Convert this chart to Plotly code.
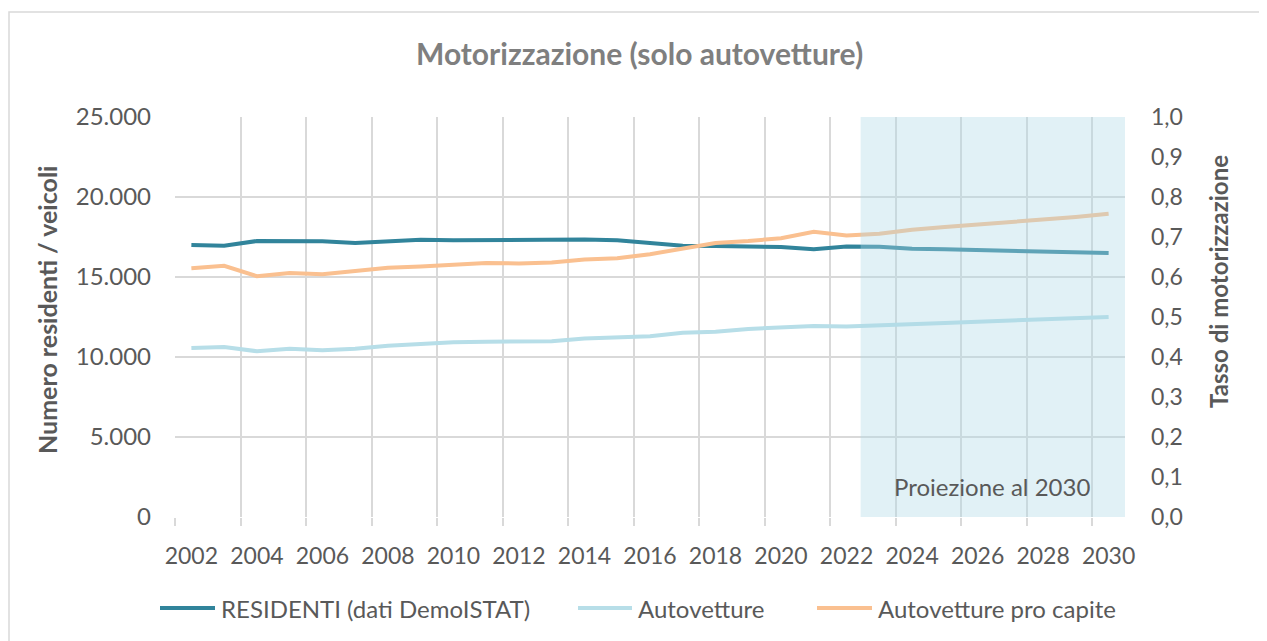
import plotly.graph_objects as go

years = list(range(2002, 2031))
residenti = [17000, 16950, 17250, 17250, 17230, 17130, 17230, 17330, 17290, 17310,
             17330, 17330, 17350, 17290, 17120, 16960, 16940, 16920, 16870, 16730,
             16910, 16890, 16770, 16730, 16690, 16660, 16620, 16540, 16500]
autovetture = [10560, 10620, 10360, 10520, 10420, 10520, 10710, 10840, 10920, 10960,
               10960, 10980, 11150, 11210, 11290, 11520, 11580, 11750, 11830, 11940,
               11900, 11960, 12040, 12120, 12210, 12270, 12330, 12420, 12500]
pro_capite = [0.622, 0.628, 0.602, 0.610, 0.607, 0.616, 0.623, 0.626, 0.631, 0.635,
              0.634, 0.636, 0.644, 0.647, 0.657, 0.670, 0.685, 0.690, 0.697, 0.713,
              0.704, 0.708, 0.718, 0.725, 0.731, 0.738, 0.743, 0.750, 0.758]
series_names = ["RESIDENTI (dati DemoISTAT)", "Autovetture", "Autovetture pro capite"]
series_colors = ["#31849B", "#B7DEE8", "#FAC090"]
x_tick_labels = [str(y) for y in range(2002, 2031, 2)]
proj_start, proj_end = 2022.43, 2030.5

FONT = "Lato"
TXT = "#595959"
GRID = "#D9D9D9"

# page has an 8px body margin: plot area on the page is x 175..1125, y 117..517
PL, PR, PT, PB = 175, 1125, 117, 517
def px(x):
    return (x - PL) / (PR - PL)
def py(y):
    return (PB - y) / (PB - PT)

fig = go.Figure()
for vals, name, col, ax in zip([residenti, autovetture, pro_capite], series_names,
                               series_colors, ["y", "y", "y2"]):
    fig.add_trace(go.Scatter(x=years, y=vals, name=name, mode="lines",
                             line=dict(color=col, width=4), yaxis=ax,
                             showlegend=False))

W, H = 1259, 633
fig.update_layout(
    width=W, height=H,
    margin=dict(l=PL - 8, r=W - (PR - 8), t=PT - 8, b=H - (PB - 8)),
    paper_bgcolor="white", plot_bgcolor="white",
    separators=",.",
    font=dict(family=FONT, size=23, color=TXT),
    showlegend=False,
    xaxis=dict(range=[2001.5, 2030.5], tickmode="array",
               tickvals=[int(t) for t in x_tick_labels], ticktext=x_tick_labels,
               ticks="", showgrid=False, zeroline=False, showline=False,
               ticklabelstandoff=23,
               tickfont=dict(family=FONT, size=23, color=TXT),
               minor=dict(tickmode="array",
                          tickvals=[y - 0.5 for y in range(2002, 2031, 2)],
                          ticks="outside", ticklen=8, tickcolor=GRID, tickwidth=1.5,
                          showgrid=True, gridcolor=GRID, gridwidth=1.5)),
    yaxis=dict(range=[0, 25000], tick0=0, dtick=5000, tickformat=",d",
               showgrid=True, gridcolor=GRID, gridwidth=1.5, zeroline=False,
               ticks="", ticklabelstandoff=23,
               tickfont=dict(family=FONT, size=24, color=TXT)),
    yaxis2=dict(range=[0, 1], tick0=0, dtick=0.1, tickformat=".1f",
                overlaying="y", side="right", showgrid=False, zeroline=False,
                ticks="", ticklabelstandoff=25,
                tickfont=dict(family=FONT, size=23, color=TXT)),
)

# projection band (drawn above the lines, translucent)
fig.add_shape(type="rect", xref="x", yref="paper", x0=proj_start, x1=proj_end,
              y0=0, y1=1, fillcolor="rgba(173,216,230,0.37)", line=dict(width=0),
              layer="above")
# outer chart border
fig.add_shape(type="rect", xref="paper", yref="paper", x0=px(9), x1=px(1280),
              y0=py(660), y1=py(12), line=dict(color=GRID, width=1.5),
              fillcolor="rgba(0,0,0,0)", layer="below")

fig.add_annotation(text="<b>Motorizzazione (solo autovetture)</b>", xref="paper", yref="paper",
                   x=px(639), y=py(53), showarrow=False, xanchor="center", yanchor="middle",
                   font=dict(family=FONT, size=30, color="#7F7F7F"))
fig.add_annotation(text="<b>Numero residenti / veicoli</b>", xref="paper", yref="paper",
                   x=px(47), y=py(310), showarrow=False, textangle=-90,
                   xanchor="center", yanchor="middle",
                   font=dict(family=FONT, size=25, color=TXT))
fig.add_annotation(text="<b>Tasso di motorizzazione</b>", xref="paper", yref="paper",
                   x=px(1218), y=py(282), showarrow=False, textangle=-90,
                   xanchor="center", yanchor="middle",
                   font=dict(family=FONT, size=24, color=TXT))
fig.add_annotation(text="Proiezione al 2030", xref="paper", yref="paper",
                   x=px(992), y=py(486), showarrow=False,
                   xanchor="center", yanchor="middle",
                   font=dict(family=FONT, size=24, color=TXT))

# legend (line samples + labels)
leg_y = 608
leg_lines = [(160, 215), (578, 632), (817, 872)]
leg_text_x = [219, 636, 876]
for (x0, x1), tx, name, col in zip(leg_lines, leg_text_x, series_names, series_colors):
    fig.add_shape(type="line", xref="paper", yref="paper", x0=px(x0), x1=px(x1),
                  y0=py(leg_y), y1=py(leg_y), line=dict(color=col, width=4))
    fig.add_annotation(text=name, xref="paper", yref="paper", x=px(tx), y=py(leg_y),
                       showarrow=False, xanchor="left", yanchor="middle",
                       font=dict(family=FONT, size=24, color=TXT))

fig.write_html("out.html")
